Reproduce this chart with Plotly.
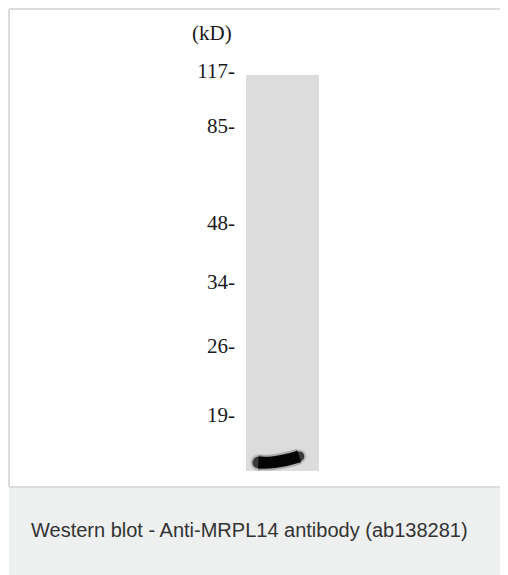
import plotly.graph_objects as go

# --- data (migration in % of blot panel height, 0 = top of panel) ---
marker_kd = ["117", "85", "48", "34", "26", "19"]
marker_migration = [12.8, 24.5, 44.6, 57.1, 70.5, 84.9]
lane_names = [1]
lane_start = [13.8]
lane_end = [96.6]
band_x = [0.67, 0.82, 0.97, 1.12, 1.23]
band_migration = [94.9, 94.9, 94.6, 94.1, 93.6]
header_migration = 5.0
caption = "Western blot - Anti-MRPL14 antibody (ab138281)"

fig = go.Figure()

fig.add_trace(go.Bar(
    x=lane_names, y=[e - s for s, e in zip(lane_start, lane_end)], base=lane_start,
    width=1, marker=dict(color="#dcdcdc", line=dict(width=0)), hoverinfo="skip",
    showlegend=False))

# soft halo of the band
fig.add_trace(go.Scatter(
    x=band_x, y=band_migration, mode="lines+markers",
    line=dict(color="rgba(0,0,0,0.22)", width=16, shape="spline"),
    marker=dict(size=[16, 0, 0, 0, 14], color="rgba(0,0,0,0.22)", line=dict(width=0)),
    hoverinfo="skip", showlegend=False))
fig.add_trace(go.Scatter(
    x=band_x, y=band_migration, mode="lines+markers",
    line=dict(color="#050505", width=12, shape="spline"),
    marker=dict(size=[12, 0, 0, 0, 10], color="#050505", line=dict(width=0)),
    hoverinfo="skip", showlegend=False))

AXIS_POS = 0.453
BORDER = dict(color="#dddddd", width=2)

fig.update_layout(
    width=500, height=567,
    margin=dict(l=1, r=0, t=1, b=88),
    paper_bgcolor="white", plot_bgcolor="white",
    bargap=0,
    xaxis=dict(range=[-2.747, 4.089], visible=False, fixedrange=True),
    yaxis=dict(range=[100, 0], anchor="free", position=AXIS_POS,
               tickvals=marker_migration,
               ticktext=[k + "-" for k in marker_kd],
               showgrid=False, zeroline=False, showline=False, ticks="",
               tickfont=dict(family="Liberation Serif", size=21, color="#1a1a1a")),
    shapes=[
        dict(type="rect", xref="paper", yref="paper", x0=0, x1=1.05, y0=-0.21, y1=0,
             line=dict(width=0), fillcolor="#eeefef", layer="below"),
        dict(type="line", xref="paper", yref="paper", x0=0, x1=1.05, y0=1, y1=1, line=BORDER),
        dict(type="line", xref="paper", yref="paper", x0=0, x1=0, y0=0, y1=1, line=BORDER),
        dict(type="line", xref="paper", yref="paper", x0=0, x1=1.05, y0=0, y1=0, line=BORDER),
    ],
    annotations=[
        dict(text="(kD)", xref="paper", yref="y", x=AXIS_POS, y=header_migration,
             xanchor="right", yanchor="middle", xshift=-1, showarrow=False,
             font=dict(family="Liberation Serif", size=21, color="#1a1a1a")),
        dict(text=caption, xref="paper", yref="paper", x=0.040, y=-0.09,
             xanchor="left", yanchor="middle", showarrow=False,
             font=dict(family="Liberation Sans", size=20, color="#333333")),
    ],
)

fig.write_html("out.html")
